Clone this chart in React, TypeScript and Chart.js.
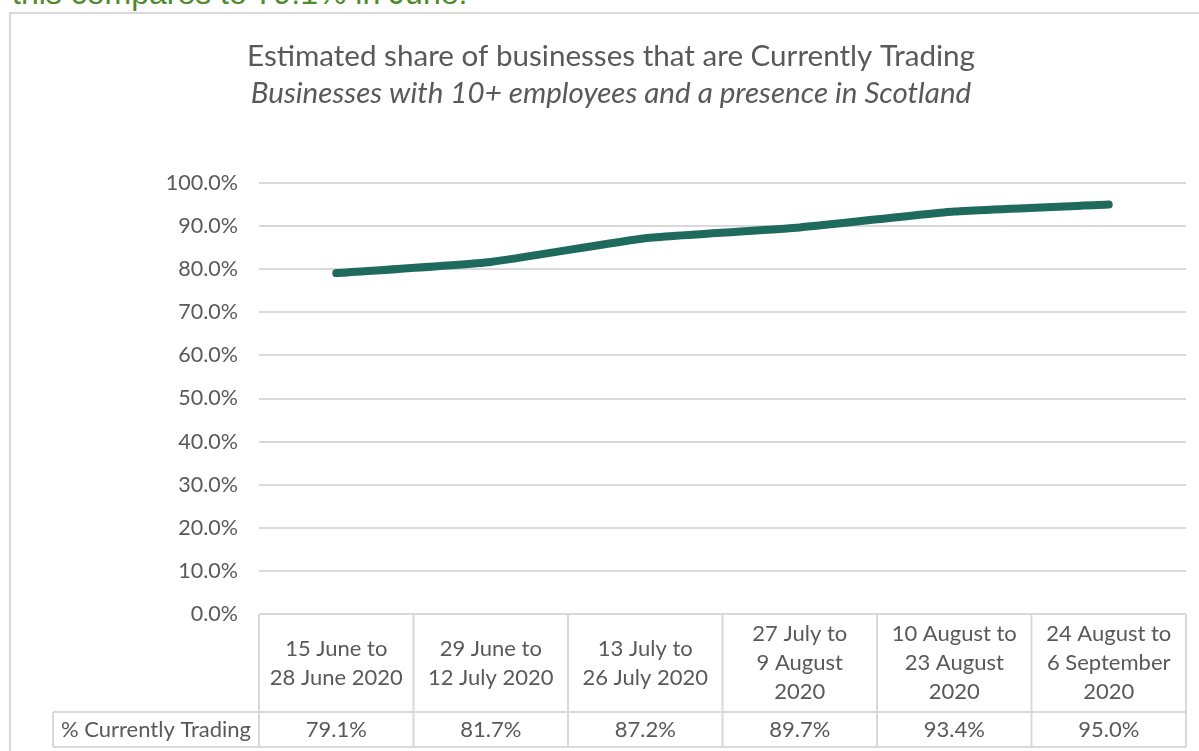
import React, { useEffect, useRef } from "react";
import { Chart, registerables } from "chart.js";

Chart.register(...registerables);

const titleText = "Estimated share of businesses that are Currently Trading";
const subtitleText = "Businesses with 10+ employees and a presence in Scotland";
const headerNote = "this compares to 79.1% in June.";
const seriesName = "% Currently Trading";

const periods: string[][] = [
  ["15 June to", "28 June 2020"],
  ["29 June to", "12 July 2020"],
  ["13 July to", "26 July 2020"],
  ["27 July to", "9 August", "2020"],
  ["10 August to", "23 August", "2020"],
  ["24 August to", "6 September", "2020"],
];
const tradingShare: number[] = [79.1, 81.7, 87.2, 89.7, 93.4, 95.0];
const yTicks: number[] = [0, 10, 20, 30, 40, 50, 60, 70, 80, 90, 100];

const FONT = "Lato, 'Noto Sans', sans-serif";
const TEXT = "#595959";
const LINE = "#d9d9d9";

const tablePlugin = {
  id: "dataTable",
  afterDraw(chart: any) {
    const { ctx, chartArea } = chart;
    const xs = chart.scales.x;
    const n = periods.length;
    const left = chartArea.left;
    const right = chartArea.right;
    const top = chartArea.bottom;
    const mid = 712;
    const bottom = 747;
    const labelLeft = 53;
    const w = (right - left) / n;
    ctx.save();
    ctx.strokeStyle = LINE;
    ctx.lineWidth = 2;
    ctx.beginPath();
    ctx.moveTo(left, top);
    ctx.lineTo(right, top);
    ctx.moveTo(labelLeft, mid);
    ctx.lineTo(right, mid);
    ctx.moveTo(labelLeft, bottom);
    ctx.lineTo(right, bottom);
    for (let i = 0; i <= n; i++) {
      const x = left + i * w;
      ctx.moveTo(x, top);
      ctx.lineTo(x, bottom);
    }
    ctx.moveTo(labelLeft, mid);
    ctx.lineTo(labelLeft, bottom);
    ctx.stroke();

    ctx.fillStyle = TEXT;
    ctx.font = `22px ${FONT}`;
    ctx.textBaseline = "middle";
    ctx.textAlign = "center";
    const lh = 29;
    const headCenter = (top + mid) / 2;
    periods.forEach((lines, i) => {
      const cx = xs.getPixelForValue(i);
      const start = headCenter - ((lines.length - 1) * lh) / 2;
      lines.forEach((t, j) => ctx.fillText(t, cx, start + j * lh));
      ctx.fillText(tradingShare[i].toFixed(1) + "%", cx, (mid + bottom) / 2);
    });
    ctx.textAlign = "left";
    ctx.fillText(seriesName, 61, (mid + bottom) / 2);
    ctx.restore();
  },
};

export default function App() {
  const ref = useRef<HTMLCanvasElement | null>(null);

  useEffect(() => {
    if (!ref.current) return;
    const chart = new Chart(ref.current, {
      type: "line",
      data: {
        labels: periods.map((p) => p.join(" ")),
        datasets: [
          {
            label: seriesName,
            data: tradingShare,
            borderColor: "#1E6A5C",
            backgroundColor: "#1E6A5C",
            borderWidth: 8,
            pointRadius: 0,
            tension: 0.15,
            borderCapStyle: "round",
            borderJoinStyle: "round",
          },
        ],
      },
      options: {
        responsive: false,
        animation: false,
        layout: { padding: { left: 36, right: 13, top: 39, bottom: 137 } },
        plugins: {
          legend: { display: false },
          tooltip: { enabled: false },
          title: {
            display: true,
            text: titleText,
            color: TEXT,
            font: { family: FONT, size: 29.6, weight: "normal", lineHeight: 1.2 },
            padding: { top: 0, bottom: 1 },
          },
          subtitle: {
            display: true,
            text: subtitleText,
            color: TEXT,
            font: { family: FONT, size: 29.6, style: "italic", weight: "normal", lineHeight: 1.2 },
            padding: { top: 0, bottom: 72 },
          },
        },
        scales: {
          x: {
            type: "category",
            offset: true,
            display: false,
          },
          y: {
            min: 0,
            max: 100,
            afterFit: (s: any) => {
              s.width = 223;
            },
            afterBuildTicks: (s: any) => {
              s.ticks = yTicks.map((v) => ({ value: v }));
            },
            ticks: {
              color: TEXT,
              font: { family: FONT, size: 21.5 },
              padding: 21,
              callback: (v: any) => Number(v).toFixed(1) + "%",
            },
            grid: { color: LINE, lineWidth: 2, drawTicks: false },
            border: { display: false },
          },
        },
      },
      plugins: [tablePlugin],
    });
    return () => chart.destroy();
  }, []);

  return (
    <div
      style={{
        position: "fixed",
        left: 0,
        top: 0,
        width: 1199,
        height: 751,
        overflow: "hidden",
        background: "#fff",
      }}
    >
      <div
        style={{
          position: "absolute",
          left: 12,
          top: -20,
          fontFamily: "'Liberation Sans', Arial, sans-serif",
          fontSize: 32,
          lineHeight: "26px",
          color: "#4E8B2C",
          whiteSpace: "nowrap",
        }}
      >
        {headerNote}
      </div>
      <div
        style={{
          position: "absolute",
          left: 9,
          top: 12,
          width: 1300,
          height: 900,
          border: "2px solid #d9d9d9",
        }}
      />
      <canvas
        ref={ref}
        width={1199}
        height={751}
        style={{ position: "absolute", left: 0, top: 0 }}
      />
    </div>
  );
}
